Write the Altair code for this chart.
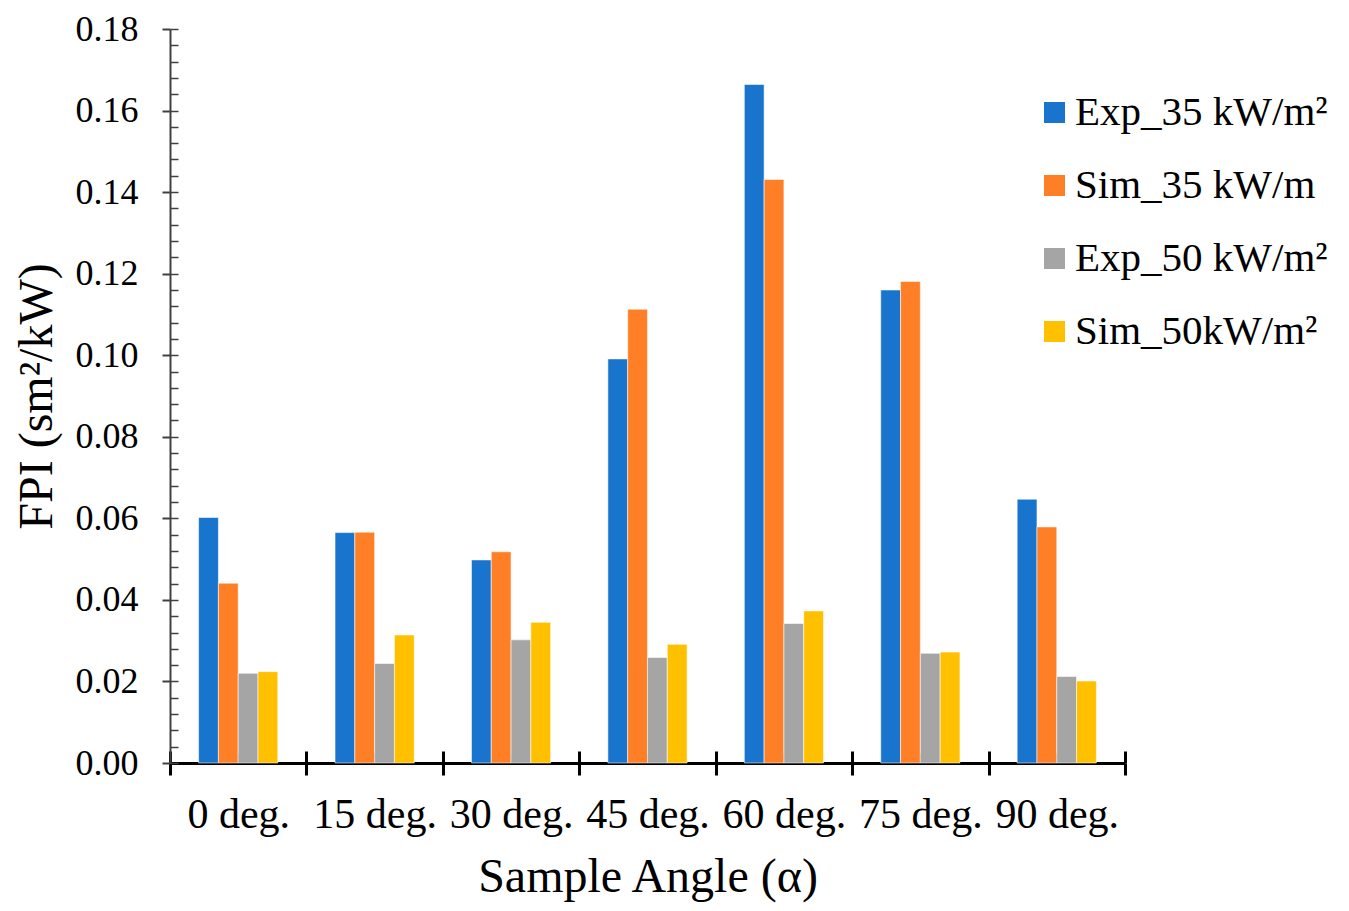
import altair as alt
import pandas as pd

angles = ["0 deg.", "15 deg.", "30 deg.", "45 deg.", "60 deg.", "75 deg.", "90 deg."]
series = ["Exp_35 kW/m²", "Sim_35 kW/m", "Exp_50 kW/m²", "Sim_50kW/m²"]
exp35 = [0.0602, 0.0565, 0.0498, 0.0991, 0.1664, 0.1160, 0.0647]
sim35 = [0.0441, 0.0566, 0.0518, 0.1113, 0.1431, 0.1181, 0.0579]
exp50 = [0.0220, 0.0244, 0.0302, 0.0259, 0.0342, 0.0269, 0.0212]
sim50 = [0.0224, 0.0314, 0.0345, 0.0291, 0.0373, 0.0272, 0.0201]
colors = ["#1874CD", "#FF7F27", "#A5A5A5", "#FFC000"]
y_major = [0.00, 0.02, 0.04, 0.06, 0.08, 0.10, 0.12, 0.14, 0.16, 0.18]
y_minor = [round(i * 0.004, 3) for i in range(46)]

rows = []
for s, vals in zip(series, [exp35, sim35, exp50, sim50]):
    for a, v in zip(angles, vals):
        rows.append({"angle": a, "series": s, "value": v})
df = pd.DataFrame(rows)

FONT = "Liberation Serif"
xscale = alt.Scale(domain=angles, paddingInner=0, paddingOuter=0)
yscale = alt.Scale(domain=[0, 0.18], nice=False, zero=True)

bars = alt.Chart(df).mark_bar(stroke="#ffffff", strokeWidth=0.8, strokeOpacity=0.7).encode(
    x=alt.X("angle:N", scale=xscale, sort=angles,
            axis=alt.Axis(orient="bottom", title="Sample Angle (α)", labelAngle=0,
                          tickBand="extent", ticks=True, tickSize=12, tickWidth=3,
                          tickColor="black", domainColor="black", domainWidth=3,
                          labelFont=FONT, labelFontSize=42, labelColor="black",
                          labelPadding=19, labelLimit=0, titleFont=FONT, titleFontSize=48,
                          titleFontWeight="normal", titleColor="black", titlePadding=18)),
    xOffset=alt.XOffset("series:N", sort=series,
                        scale=alt.Scale(domain=series, range=[28.6, 107.8],
                                        paddingInner=0, paddingOuter=0)),
    y=alt.Y("value:Q", scale=yscale,
            axis=alt.Axis(orient="left", title="FPI (sm²/kW)", values=y_major, format=".2f",
                          grid=False, tickSize=8, tickWidth=2, tickColor="#404040",
                          domainColor="#404040", domainWidth=2,
                          labelFont=FONT, labelFontSize=36, labelColor="black",
                          labelPadding=24, titleFont=FONT, titleFontSize=48,
                          titleFontWeight="normal", titleColor="black", titlePadding=14)),
    color=alt.Color("series:N", sort=series,
                    scale=alt.Scale(domain=series, range=colors),
                    legend=alt.Legend(title=None, orient="none", legendX=864, legendY=63,
                                      symbolType="square", symbolSize=441,
                                      symbolStrokeWidth=0, labelFont=FONT,
                                      labelFontSize=41, labelColor="black", labelLimit=0,
                                      labelOffset=0, rowPadding=31, padding=0)),
)

x_up = alt.Chart(df).mark_point(opacity=0).encode(
    x=alt.X("angle:N", scale=xscale, sort=angles,
            axis=alt.Axis(orient="bottom", title=None, labels=False, domain=False,
                          tickBand="extent", tickSize=12, tickWidth=3, tickColor="black",
                          offset=-12)),
    y=alt.Y("value:Q", scale=yscale, axis=None),
)

x_mid = alt.Chart(df).mark_point(opacity=0).encode(
    x=alt.X("angle:N", scale=xscale, sort=angles,
            axis=alt.Axis(orient="bottom", title=None, labels=False, domain=False,
                          tickSize=10, tickWidth=2.5, tickColor="black", offset=-10)),
    y=alt.Y("value:Q", scale=yscale, axis=None),
)

y_in = alt.Chart(df).mark_point(opacity=0).encode(
    x=alt.X("angle:N", scale=xscale, sort=angles, axis=None),
    y=alt.Y("value:Q", scale=yscale,
            axis=alt.Axis(orient="left", title=None, labels=False, domain=False, grid=False,
                          values=y_minor, tickSize=8, tickWidth=1.5, tickColor="#404040",
                          offset=-8)),
)

chart = alt.layer(bars, x_up, x_mid, y_in).resolve_axis(
    x="independent", y="independent"
).properties(
    width=955, height=734,
    padding={"left": 162, "top": 21, "right": 215, "bottom": 145},
    autosize=alt.AutoSizeParams(type="none"),
).configure_view(stroke=None).configure_axis(grid=False)

chart.save("out.html", embed_options={"renderer": "svg", "actions": False})
